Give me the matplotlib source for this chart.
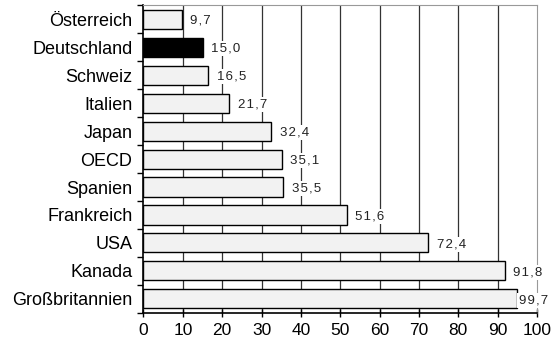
import numpy as np
import matplotlib.pyplot as plt

plt.rcParams['font.family'] = ['Liberation Sans', 'DejaVu Sans']

countries = ['Österreich', 'Deutschland', 'Schweiz', 'Italien', 'Japan', 'OECD',
             'Spanien', 'Frankreich', 'USA', 'Kanada', 'Großbritannien']
values = [9.7, 15.0, 16.5, 21.7, 32.4, 35.1, 35.5, 51.6, 72.4, 91.8, 99.7]
highlight = 'Deutschland'
bar_cap = 95  # longest bar is cut off in the original


def main():
    fig = plt.figure(figsize=(5.57, 3.42), dpi=100)
    ax = fig.add_axes([0.2576, 0.085, 0.7064, 0.9])

    y = np.arange(len(countries))
    widths = np.minimum(values, bar_cap)
    colors = ['black' if c == highlight else '#f2f2f2' for c in countries]

    for x in range(10, 100, 10):
        ax.axvline(x, color='#333333', lw=0.9, zorder=1)

    ax.barh(y, widths, height=0.68, color=colors, edgecolor='black', lw=1.0, zorder=2)

    for yi, v, w in zip(y, values, widths):
        off = 2.2 if w == v else 0.4
        # a bit of letter spacing like the original
        label = '\u200a'.join(f'{v:.1f}'.replace('.', ','))
        ax.text(w + off, yi + 0.05, label, va='center', ha='left',
                fontsize=9.5, color='#222222', zorder=3,
                bbox=dict(facecolor='white', edgecolor='none', pad=1.0))

    ax.set_xlim(0, 100)
    ax.set_ylim(len(countries) - 0.5, -0.5)
    ax.set_xticks(range(0, 101, 10))
    ax.tick_params(axis='x', direction='inout', length=6, width=1, labelsize=12.5, pad=4)

    ax.set_yticks(y)
    ax.set_yticklabels(countries, fontsize=13)
    ax.set_yticks(np.arange(-0.5, len(countries), 1), minor=True)
    ax.tick_params(axis='y', which='major', length=0, pad=8)
    ax.tick_params(axis='y', which='minor', length=4, width=1, direction='out')

    ax.spines['left'].set_linewidth(1.2)
    ax.spines['bottom'].set_linewidth(1.2)
    ax.spines['top'].set_color('#999999')
    ax.spines['right'].set_color('#999999')

    fig.savefig('out.png', dpi=100)


if __name__ == "__main__":
    main()
